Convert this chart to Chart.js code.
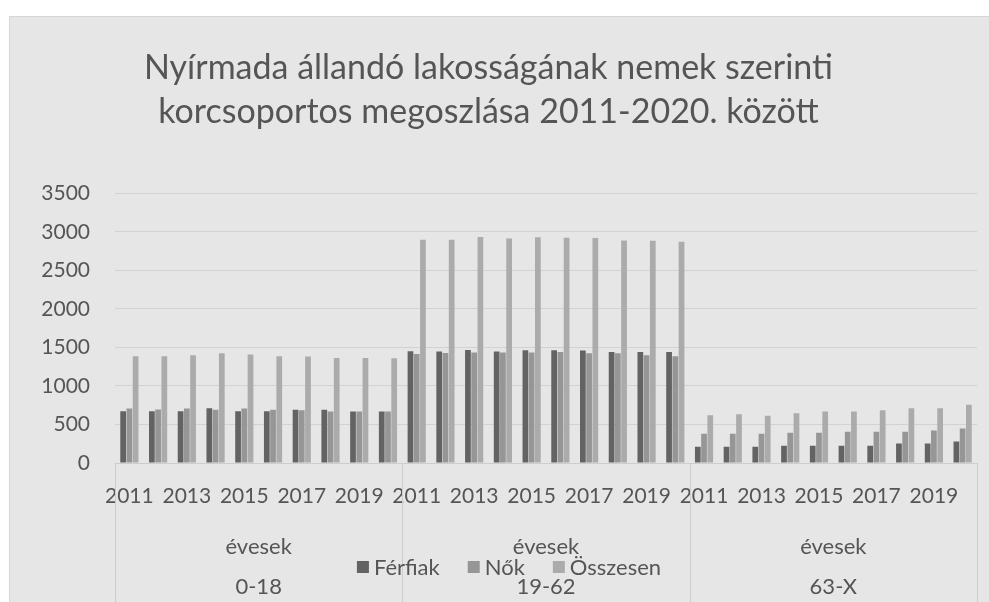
<!DOCTYPE html>
<html>
<head>
<meta charset="utf-8">
<script src="https://cdn.jsdelivr.net/npm/chart.js@4/dist/chart.umd.min.js"></script>
<style>
  html, body { margin: 0; padding: 0; background: #fff; }
  canvas { display: block; }
</style>
</head>
<body>
<canvas id="popChart" width="989" height="602"></canvas>
<script>
// years on the axis, repeated for each age group
var years = ['2011', '2012', '2013', '2014', '2015', '2016', '2017', '2018', '2019', '2020'];
var ageGroups = ['0-18', '19-62', '63-X'];
var groupCaption = 'évesek';

// Férfiak (men)
var ferfiak_0_18  = [672, 672, 672, 711, 672, 672, 690, 690, 668, 668];
var ferfiak_19_62 = [1450, 1446, 1468, 1446, 1463, 1463, 1459, 1442, 1442, 1442];
var ferfiak_63_x  = [210, 210, 210, 223, 223, 223, 223, 253, 253, 279];

// Nők (women)
var nok_0_18  = [707, 694, 707, 690, 707, 690, 686, 668, 668, 668];
var nok_19_62 = [1416, 1429, 1433, 1433, 1433, 1442, 1424, 1424, 1398, 1385];
var nok_63_x  = [379, 379, 379, 392, 392, 405, 405, 405, 422, 447];

// Összesen (total)
var osszesen_0_18  = [1385, 1385, 1398, 1424, 1407, 1385, 1381, 1364, 1364, 1360];
var osszesen_19_62 = [2899, 2899, 2934, 2916, 2930, 2925, 2921, 2890, 2886, 2873];
var osszesen_63_x  = [620, 633, 612, 646, 668, 668, 685, 711, 711, 755];

var yTicks = [0, 500, 1000, 1500, 2000, 2500, 3000, 3500];

var labels = years.concat(years, years);
var textColor = '#555555';
var fontFamily = 'Lato, "Open Sans", sans-serif';

// white page, grey chart panel, group captions, dividers and legend
var excelDecor = {
  id: 'excelDecor',
  beforeDraw: function (chart) {
    var ctx = chart.ctx;
    ctx.save();
    ctx.fillStyle = '#ffffff';
    ctx.fillRect(0, 0, chart.width, chart.height);
    ctx.fillStyle = '#e6e6e6';
    ctx.fillRect(9, 16, chart.width - 9, chart.height - 16);
    ctx.strokeStyle = '#d6d6d6';
    ctx.lineWidth = 1;
    ctx.strokeRect(9.5, 16.5, chart.width, chart.height);
    ctx.restore();
  },
  afterDraw: function (chart) {
    var ctx = chart.ctx;
    var x = chart.scales.x;
    var area = chart.chartArea;
    var per = years.length;
    var step = (area.right - area.left) / labels.length;
    ctx.save();
    // vertical separators between age groups
    ctx.strokeStyle = '#cdcdcd';
    ctx.lineWidth = 1;
    for (var g = 0; g <= ageGroups.length; g++) {
      var xx = Math.round(area.left + g * per * step) + 0.5;
      ctx.beginPath();
      ctx.moveTo(xx, area.bottom);
      ctx.lineTo(xx, chart.height);
      ctx.stroke();
    }
    ctx.fillStyle = textColor;
    ctx.font = '22px ' + fontFamily;
    ctx.textAlign = 'center';
    ctx.textBaseline = 'middle';
    for (var i = 0; i < ageGroups.length; i++) {
      var c = (x.getPixelForValue(i * per) + x.getPixelForValue(i * per + per - 1)) / 2;
      ctx.fillText(groupCaption, c, 547);
      ctx.fillText(ageGroups[i], c, 587);
    }
    // legend
    var sets = chart.data.datasets;
    ctx.font = '22px ' + fontFamily;
    var box = 12, gap = 5, itemGap = 28;
    var total = 0;
    sets.forEach(function (ds, k) {
      total += box + gap + ctx.measureText(ds.label).width + (k < sets.length - 1 ? itemGap : 0);
    });
    var lx = 509 - total / 2;
    var ly = 567;
    ctx.textAlign = 'left';
    sets.forEach(function (ds) {
      ctx.fillStyle = ds.backgroundColor;
      ctx.fillRect(lx, ly - box / 2, box, box);
      lx += box + gap;
      ctx.fillStyle = textColor;
      ctx.fillText(ds.label, lx, ly + 1);
      lx += ctx.measureText(ds.label).width + itemGap;
    });
    ctx.restore();
  }
};

new Chart(document.getElementById('popChart').getContext('2d'), {
  type: 'bar',
  data: {
    labels: labels,
    datasets: [
      {
        label: 'Férfiak',
        data: ferfiak_0_18.concat(ferfiak_19_62, ferfiak_63_x),
        backgroundColor: '#636363'
      },
      {
        label: 'Nők',
        data: nok_0_18.concat(nok_19_62, nok_63_x),
        backgroundColor: '#969696'
      },
      {
        label: 'Összesen',
        data: osszesen_0_18.concat(osszesen_19_62, osszesen_63_x),
        backgroundColor: '#ababab'
      }
    ]
  },
  options: {
    responsive: false,
    animation: false,
    layout: { padding: { left: 0, right: 12, top: 0, bottom: 0 } },
    datasets: {
      bar: { categoryPercentage: 0.65, barPercentage: 0.92 }
    },
    plugins: {
      legend: { display: false },
      tooltip: { enabled: false },
      title: {
        display: true,
        text: ['Nyírmada állandó lakosságának nemek szerinti', 'korcsoportos megoszlása 2011-2020. között'],
        color: textColor,
        font: { family: fontFamily, size: 34, weight: 'normal', lineHeight: 1.3 },
        padding: { top: 46, bottom: 59 }
      }
    },
    scales: {
      x: {
        grid: { display: false },
        border: { color: '#cdcdcd' },
        ticks: {
          autoSkip: false,
          maxRotation: 0,
          padding: 13,
          color: textColor,
          font: { family: fontFamily, size: 21 },
          callback: function (val, i) {
            return i % 2 === 0 ? this.getLabelForValue(val) : '';
          }
        },
        afterFit: function (scale) { scale.height = 139; }
      },
      y: {
        min: 0,
        max: 3500,
        afterBuildTicks: function (scale) {
          scale.ticks = yTicks.map(function (v) { return { value: v }; });
        },
        grid: { color: '#d2d2d2', drawTicks: false },
        border: { display: false },
        ticks: {
          padding: 25,
          color: textColor,
          font: { family: fontFamily, size: 21 },
          callback: function (v) { return String(v); }
        },
        afterFit: function (scale) { scale.width = 115; }
      }
    }
  },
  plugins: [excelDecor]
});
</script>
</body>
</html>
